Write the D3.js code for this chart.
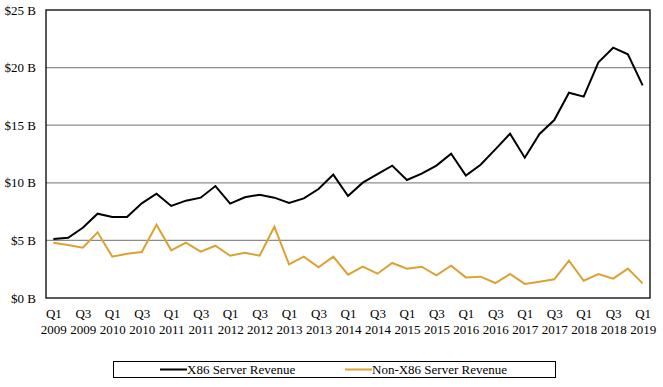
<!DOCTYPE html>
<meta charset="utf-8">
<script src="https://d3js.org/d3.v7.min.js"></script>
<style>
  body { margin: 0; background: #fff; }
</style>
<div id="my_dataviz"></div>
<script>

// quarters Q1 2009 .. Q1 2019
var quarters = [];
for (var yr = 2009; yr <= 2019; yr++) {
  for (var q = 1; q <= 4; q++) {
    if (yr === 2019 && q > 1) break;
    quarters.push("Q" + q + " " + yr);
  }
}

// revenue, $ billions
var x86Revenue = [
  5.12, 5.23, 6.1, 7.32, 7.03, 7.03, 8.22, 9.06, 7.99, 8.45, 8.71, 9.72,
  8.19, 8.74, 8.97, 8.71, 8.25, 8.65, 9.46, 10.71, 8.85, 10.01, 10.76, 11.49,
  10.24, 10.79, 11.49, 12.53, 10.62, 11.57, 12.9, 14.26, 12.18, 14.24, 15.45, 17.82,
  17.48, 20.46, 21.73, 21.15, 18.46
];
var nonX86Revenue = [
  4.8, 4.6, 4.37, 5.7, 3.59, 3.85, 3.99, 6.36, 4.14, 4.8, 4.02, 4.54,
  3.67, 3.93, 3.67, 6.19, 2.92, 3.59, 2.66, 3.59, 2.03, 2.72, 2.11, 3.04,
  2.55, 2.72, 1.97, 2.81, 1.79, 1.85, 1.30, 2.08, 1.22, 1.42, 1.62, 3.24,
  1.5, 2.08, 1.68, 2.55, 1.27
];
var yTicks = [0, 5, 10, 15, 20, 25];
var seriesNames = ["X86 Server Revenue", "Non-X86 Server Revenue"];
var seriesColors = ["#000000", "#DBA231"];

var FONT = "'Liberation Serif', 'Times New Roman', serif";

var W = 663, H = 387;
var margin = {top: 10, right: 13, bottom: 89, left: 46},
    width = W - margin.left - margin.right,
    height = H - margin.top - margin.bottom;

var root = d3.select("#my_dataviz")
  .append("svg")
  .attr("width", W)
  .attr("height", H)
  .attr("font-family", FONT);

var svg = root.append("g")
  .attr("transform", "translate(" + margin.left + "," + margin.top + ")");

var x = d3.scalePoint()
  .domain(quarters)
  .range([0, width])
  .padding(0.5);

var y = d3.scaleLinear()
  .domain([0, 25])
  .range([height, 0]);

// gridlines
svg.append("g")
  .selectAll("line")
  .data(yTicks.slice(1, -1))
  .enter().append("line")
  .attr("x1", 0).attr("x2", width)
  .attr("y1", function(d) { return y(d); })
  .attr("y2", function(d) { return y(d); })
  .style("stroke", "#8c8c8c")
  .style("stroke-width", 1.2);

// y labels
var yAxis = svg.append("g")
  .call(d3.axisLeft(y).tickValues(yTicks).tickSize(0).tickPadding(10)
    .tickFormat(function(d) { return "$" + d + " B"; }));
yAxis.attr("font-family", FONT).attr("font-size", 13);
yAxis.select(".domain").remove();
yAxis.selectAll("text").attr("fill", "#000");

// x labels (every other quarter), two lines
var xAxis = svg.append("g")
  .attr("transform", "translate(0," + height + ")")
  .call(d3.axisBottom(x).tickValues(quarters.filter(function(d, i) { return i % 2 === 0; }))
    .tickSize(0).tickFormat(""));
xAxis.attr("font-family", FONT).attr("font-size", 13);
xAxis.select(".domain").remove();
xAxis.selectAll(".tick").append("text")
  .attr("text-anchor", "middle")
  .attr("fill", "#000")
  .each(function(d) {
    var parts = d.split(" ");
    var t = d3.select(this);
    t.append("tspan").attr("x", 0).attr("y", 20).text(parts[0]);
    t.append("tspan").attr("x", 0).attr("y", 36).text(parts[1]);
  });

// lines
var line = d3.line()
  .x(function(d, i) { return x(quarters[i]); })
  .y(function(d) { return y(d); });

[x86Revenue, nonX86Revenue].forEach(function(s, k) {
  svg.append("path")
    .datum(s)
    .attr("d", line)
    .style("fill", "none")
    .style("stroke", seriesColors[k])
    .style("stroke-width", 2);
});

// plot frame
svg.append("rect")
  .attr("x", 0).attr("y", 0)
  .attr("width", width).attr("height", height)
  .style("fill", "none")
  .style("stroke", "#000")
  .style("stroke-width", 1.3);

// legend
var legend = root.append("g");
legend.append("rect")
  .attr("x", 113.5).attr("y", 361.5)
  .attr("width", 442).attr("height", 16)
  .style("fill", "none")
  .style("stroke", "#000")
  .style("stroke-width", 1);

var legendX = [160, 345];
seriesNames.forEach(function(name, k) {
  legend.append("line")
    .attr("x1", legendX[k]).attr("x2", legendX[k] + 27)
    .attr("y1", 369.5).attr("y2", 369.5)
    .style("stroke", seriesColors[k])
    .style("stroke-width", 2);
  legend.append("text")
    .attr("x", legendX[k] + 27)
    .attr("y", 374)
    .attr("font-size", 13)
    .attr("fill", "#000")
    .text(name);
});

</script>
